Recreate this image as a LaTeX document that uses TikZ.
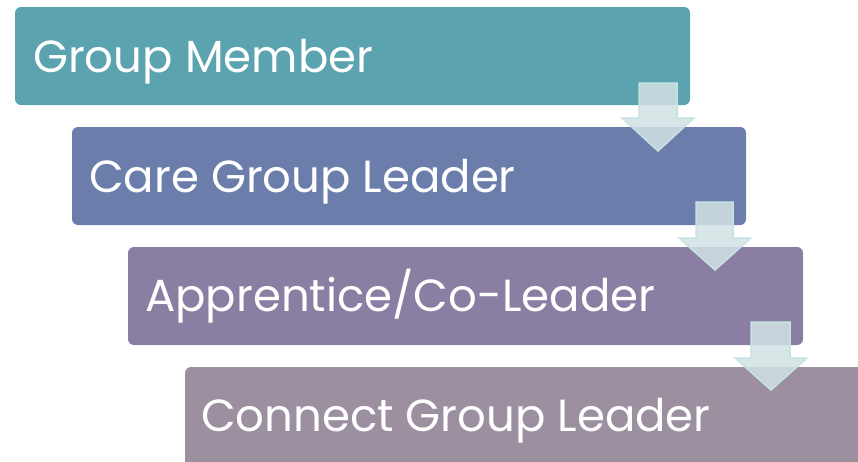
\documentclass[tikz,border=0pt]{standalone}
\usepackage{fontspec}
\setmainfont{Poppins}
\definecolor{cA}{HTML}{5BA3AE}
\definecolor{cB}{HTML}{6B7EAB}
\definecolor{cC}{HTML}{8A7FA3}
\definecolor{cD}{HTML}{9C8FA0}
\definecolor{arrfill}{HTML}{D2E2E4}
\definecolor{arrline}{HTML}{C6E2E5}
\begin{document}
\begin{tikzpicture}[x=1pt,y=-1pt,
  stage/.style={fill=#1, draw=none, rounded corners=6pt},
  lbl/.style={anchor=base west, text=white, inner sep=0pt, font=\fontsize{45}{45}\selectfont},
  blockarrow/.style={fill=arrfill, fill opacity=0.85, draw=arrline, line width=1.5pt, line join=miter}]
\useasboundingbox (0,0) rectangle (858,461);
% boxes
\fill[stage=cA] (15,7) rectangle (690,105);
\fill[stage=cB] (72,127) rectangle (746,225);
\fill[stage=cC] (128,247) rectangle (803,345);
\fill[stage=cD] (185,367) rectangle (864,470);
% labels
\node[lbl] (m1) at (33,72) {Group Member};
\node[lbl] (m2) at (89,192) {Care Group Leader};
\node[lbl] (m3) at (145,311) {Apprentice/Co-Leader};
\node[lbl] (m4) at (201,431) {Connect Group Leader};
% arrows
\draw[blockarrow] (639,83) -- (677,83) -- (677,118) -- (694,118) -- (658,151) -- (622,118) -- (639,118) -- cycle;
\draw[blockarrow] (696,202) -- (733,202) -- (733,238) -- (751,238) -- (715,270) -- (679,238) -- (696,238) -- cycle;
\draw[blockarrow] (751,322) -- (790,322) -- (790,358) -- (807,358) -- (771,390) -- (735,358) -- (751,358) -- cycle;
\end{tikzpicture}
\end{document}
